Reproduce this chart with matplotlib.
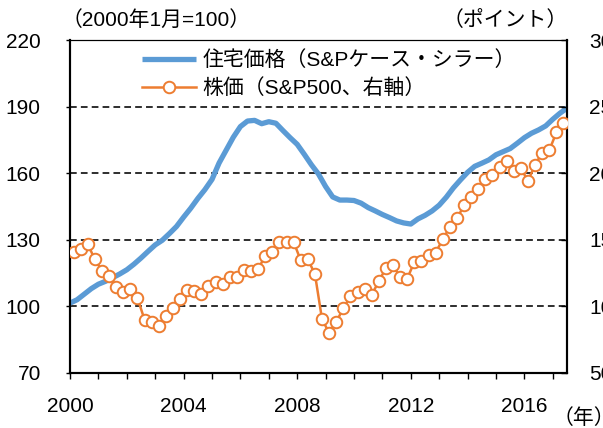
import matplotlib
matplotlib.use('Agg')
import matplotlib.pyplot as plt
import numpy as np

FONT = ['Liberation Sans', 'Noto Sans CJK JP', 'DejaVu Sans']
plt.rcParams['font.family'] = FONT

# Quarterly data, 2000Q1 onward
house_price = [101.5, 103.0, 105.5, 108.0, 110.0, 111.3, 112.9, 114.6, 116.5, 119.0,
               121.8, 124.8, 127.7, 129.8, 132.8, 136.0, 140.2, 144.2, 148.6, 152.6,
               157.2, 164.6, 170.4, 176.2, 181.0, 183.5, 183.8, 182.3, 183.2, 182.5,
               179.2, 176.0, 173.0, 168.5, 163.8, 159.6, 154.0, 149.3, 147.9, 147.9,
               147.7, 146.5, 144.5, 143.0, 141.4, 140.0, 138.5, 137.6, 137.1, 139.4,
               141.0, 143.0, 145.6, 149.2, 153.4, 157.0, 160.4, 163.1, 164.5, 166.0,
               168.3, 169.7, 171.1, 173.5, 176.0, 178.0, 179.5, 181.3, 184.3, 187.0,
               189.3]
stock_price = [1412, 1430, 1466, 1354, 1267, 1225, 1148, 1110, 1128, 1063,
               900, 881, 853, 930, 990, 1052, 1125, 1113, 1093, 1152,
               1182, 1170, 1217, 1223, 1274, 1267, 1279, 1382, 1412, 1484,
               1482, 1484, 1345, 1354, 1242, 903, 801, 884, 986, 1076,
               1110, 1130, 1085, 1192, 1285, 1309, 1217, 1209, 1334, 1338,
               1388, 1404, 1504, 1596, 1661, 1758, 1823, 1883, 1957, 1990,
               2047, 2089, 2014, 2040, 1940, 2064, 2152, 2171, 2306, 2380]
start_year = 2000
end_year = 2017.5
left_ticks = [70, 100, 130, 160, 190, 220]
right_ticks = [500, 1000, 1500, 2000, 2500, 3000]
year_ticks = list(range(2000, 2018))
year_labels = [str(y) if y % 4 == 0 else '' for y in year_ticks]

label_house = '住宅価格（S&Pケース・シラー）'
label_stock = '株価（S&P500、右軸）'
title_left = '（2000年1月=100）'
title_right = '（ポイント）'
x_unit = '（年）'

BLUE = '#5B9BD5'
ORANGE = '#ED7D31'

house_x = start_year + np.arange(len(house_price)) / 4
stock_x = start_year + (np.arange(len(stock_price)) + 0.5) / 4

W, H = 603, 428
fig = plt.figure(figsize=(W / 100, H / 100), dpi=100)
ax = fig.add_axes([70 / W, 1 - 373 / H, 497 / W, 333 / H])
ax2 = ax.twinx()

ax.set_xlim(start_year, end_year)
ax.set_ylim(70, 220)
ax2.set_ylim(500, 3000)

ax.yaxis.grid(True, color='black', linestyle=(0, (4.2, 2.6)), linewidth=1.15)
ax.set_axisbelow(True)

l1, = ax.plot(house_x, house_price, color=BLUE, linewidth=3.8, solid_capstyle='butt',
              label=label_house, zorder=3)
l2, = ax2.plot(stock_x, stock_price, color=ORANGE, linewidth=1.8, marker='o',
               markersize=8.3, markerfacecolor='white', markeredgecolor=ORANGE,
               markeredgewidth=1.4, label=label_stock, zorder=4)

ax.set_yticks(left_ticks)
ax.set_yticklabels([str(v) for v in left_ticks])
ax2.set_yticks(right_ticks)
ax2.set_yticklabels([str(v) for v in right_ticks])
ax.set_xticks(year_ticks)
ax.set_xticklabels(year_labels)

for a in (ax, ax2):
    for s in a.spines.values():
        s.set_color('black')
        s.set_linewidth(1.5)
    a.spines['top'].set_linewidth(0.8)

ax.tick_params(axis='y', direction='out', length=3, width=1, pad=18, labelsize=15)
ax.tick_params(axis='x', direction='out', length=4, width=1, pad=13, labelsize=15)
ax2.tick_params(axis='y', direction='in', length=4, width=1, pad=16, labelsize=15)

leg = ax2.legend([l1, l2], [label_house, label_stock], loc='upper left',
                 bbox_to_anchor=(142 / W, 1 - 50 / H), bbox_transform=fig.transFigure,
                 frameon=False, fontsize=15, handlelength=2.6, handletextpad=0.3,
                 labelspacing=0.42, borderpad=0, borderaxespad=0, numpoints=1)

fig.text(62 / W, 1 - 20 / H, title_left, ha='left', va='center', fontsize=15)
fig.text(568 / W, 1 - 20 / H, title_right, ha='right', va='center', fontsize=15)
fig.text(553 / W, 1 - 418 / H, x_unit, ha='left', va='center', fontsize=15)

fig.savefig('out.png', dpi=100)
